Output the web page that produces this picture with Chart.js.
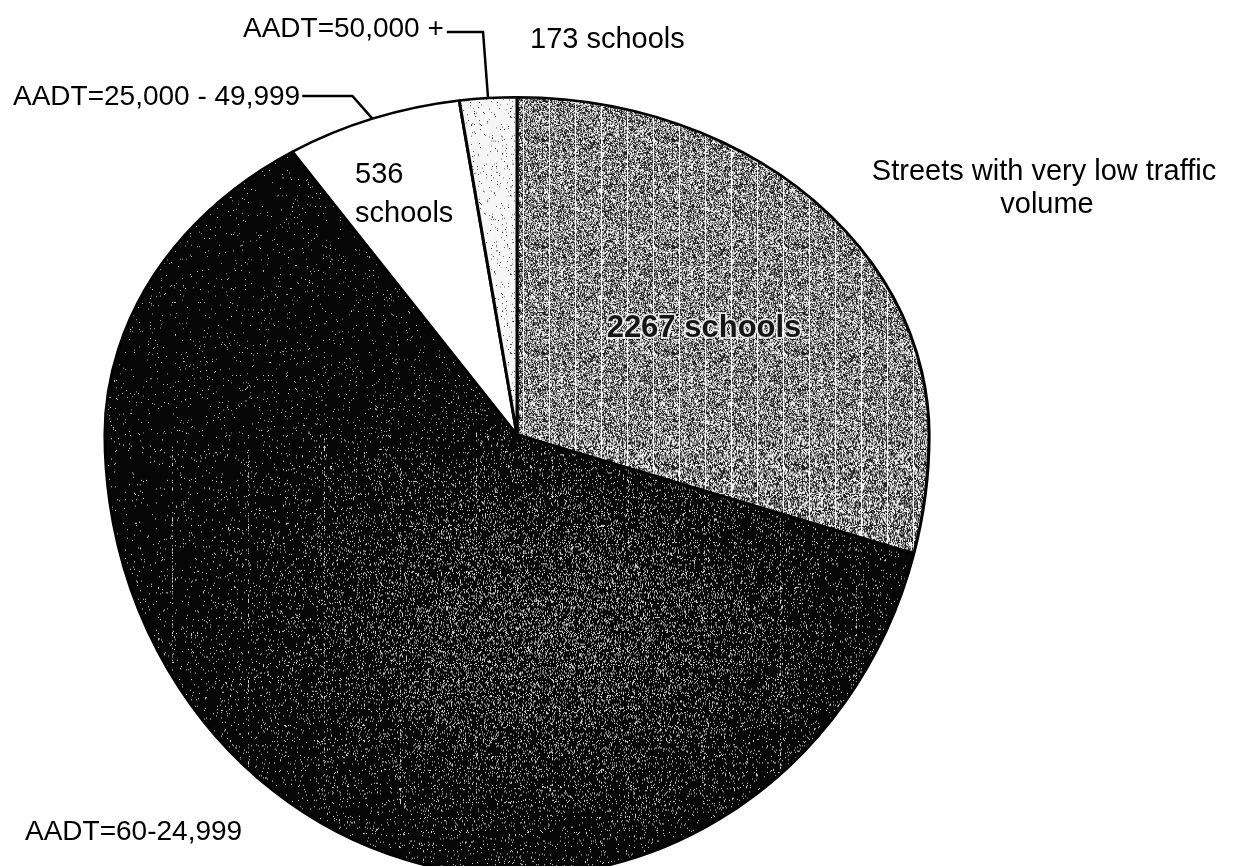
<!DOCTYPE html>
<html><head><meta charset="utf-8">
<script src="https://cdn.jsdelivr.net/npm/chart.js@4.4.1/dist/chart.umd.min.js"></script>
<style>html,body{margin:0;padding:0;background:#fff;overflow:hidden}#wrap{width:1234px;height:866px;position:relative}</style>
</head><body><div id="wrap"><canvas id="c" width="1234" height="866"></canvas></div>
<script>
// ---- data ----
const categories = ['Streets with very low traffic volume', 'AADT=60-24,999', 'AADT=25,000 - 49,999', 'AADT=50,000 +'];
const schoolCounts = [2267, 4750, 536, 173];
const countLabels = ['2267 schools', '', '536 schools', '173 schools'];

// ---- styling ----
const S_TOP = 0.82, S_BOT = 1.07;
const FONT = '"Liberation Sans", Arial, sans-serif';

function hash(x, y, s) {
  let h = (x * 374761393 + y * 668265263 + s * 982451653) | 0;
  h = Math.imul(h ^ (h >>> 13), 1274126177);
  h = h ^ (h >>> 16);
  return (h >>> 0) / 4294967296;
}
function makePattern(w, h, seed, fn, rep) {
  const c = document.createElement('canvas');
  c.width = w; c.height = h;
  const g = c.getContext('2d');
  const img = g.createImageData(w, h);
  for (let y = 0; y < h; y++) for (let x = 0; x < w; x++) {
    const v = fn(x, y, hash(x, y, seed));
    const i = (y * w + x) * 4;
    img.data[i] = img.data[i + 1] = img.data[i + 2] = v; img.data[i + 3] = 255;
  }
  g.putImageData(img, 0, 0);
  return g.createPattern(c, rep || 'repeat');
}
const grayPat = makePattern(130, 130, 1, (x, y, r) => {
  if (x % 26 === 3 && r < 0.8) return 255;
  return r < 0.44 ? 30 : (r < 0.58 ? 140 : 240);
});
const blackPat = makePattern(1234, 1000, 2, (x, y, r) => {
  const dx = (x - 560) / 230, dy = (y - 620) / 150;
  const dens = 0.015 + 0.22 * Math.exp(-(dx * dx + dy * dy));
  if ((x % 76 === 20) && r < 0.3 && y > 430 && y < 780) return 210;
  return r < dens ? 200 : 6;
}, 'no-repeat');
const lightPat = makePattern(96, 96, 3, (x, y, r) => r < 0.03 ? 60 : 246);
const sliceFills = [grayPat, blackPat, '#ffffff', lightPat];

// squash the library's circle into the scanned, egg-shaped pie
const squash = {
  id: 'squash',
  beforeDatasetsDraw(chart) {
    const a = chart.getDatasetMeta(0).data[0];
    const ctx = chart.ctx;
    ctx.save();
    ctx.beginPath(); ctx.rect(0, 0, chart.width, a.y); ctx.clip();
    ctx.translate(0, a.y); ctx.scale(1, S_TOP); ctx.translate(0, -a.y);
  },
  afterDatasetsDraw(chart) {
    const meta = chart.getDatasetMeta(0);
    const a = meta.data[0];
    const ctx = chart.ctx;
    ctx.restore();
    ctx.save();
    ctx.beginPath(); ctx.rect(0, a.y, chart.width, chart.height - a.y); ctx.clip();
    ctx.translate(0, a.y); ctx.scale(1, S_BOT); ctx.translate(0, -a.y);
    meta.controller.draw();
    ctx.restore();
  }
};

function edgePoint(arc) {
  const mid = (arc.startAngle + arc.endAngle) / 2;
  const s = Math.sin(mid) < 0 ? S_TOP : S_BOT;
  return { x: arc.x + arc.outerRadius * Math.cos(mid), y: arc.y + arc.outerRadius * Math.sin(mid) * s };
}

const labelsPlugin = {
  id: 'labels',
  afterDraw(chart) {
    const ctx = chart.ctx;
    const arcs = chart.getDatasetMeta(0).data;
    ctx.save();
    ctx.fillStyle = '#000';
    ctx.textBaseline = 'alphabetic';
    function txt(t, x, y, size, align) {
      ctx.font = size + 'px ' + FONT;
      ctx.textAlign = align || 'left';
      ctx.fillText(t, x, y);
      return ctx.measureText(t).width;
    }
    // category labels
    const w50 = txt(categories[3], 243, 37, 28);
    const w25 = txt(categories[2], 13, 105, 28);
    txt(categories[1], 25, 840, 28);
    txt('Streets with very low traffic', 1044, 180, 29, 'center');
    txt('volume', 1047, 213, 29, 'center');
    // counts
    txt(countLabels[3], 530, 48, 29);
    txt('536', 355, 183, 29);
    txt('schools', 355, 222, 29);
    // 2267 schools inside the textured slice
    ctx.font = 'bold 31px ' + FONT;
    ctx.textAlign = 'center';
    ctx.lineWidth = 3.5; ctx.strokeStyle = 'rgba(255,255,255,0.8)';
    ctx.strokeText(countLabels[0], 704, 337);
    ctx.fillStyle = '#151515';
    ctx.fillText(countLabels[0], 704, 337);
    // leader lines
    ctx.strokeStyle = '#000'; ctx.lineWidth = 2.5;
    const e3 = edgePoint(arcs[3]);
    ctx.beginPath(); ctx.moveTo(243 + w50 + 3, 32); ctx.lineTo(e3.x - 5, 32); ctx.lineTo(e3.x, e3.y); ctx.stroke();
    const e2 = edgePoint(arcs[2]);
    ctx.beginPath(); ctx.moveTo(13 + w25 + 2, 96); ctx.lineTo(e2.x - 20, 96); ctx.lineTo(e2.x, e2.y); ctx.stroke();
    ctx.restore();
  }
};

new Chart(document.getElementById('c'), {
  type: 'pie',
  data: {
    labels: categories,
    datasets: [{
      data: schoolCounts,
      backgroundColor: sliceFills,
      borderColor: '#000',
      borderWidth: 3,
      clip: false
    }]
  },
  options: {
    responsive: false,
    devicePixelRatio: 1,
    animation: false,
    radius: 412,
    rotation: 0,
    layout: { padding: { left: 105, right: 305, top: 23, bottom: 19 } },
    plugins: { legend: { display: false }, tooltip: { enabled: false } },
    events: []
  },
  plugins: [squash, labelsPlugin]
});
</script></body></html>
